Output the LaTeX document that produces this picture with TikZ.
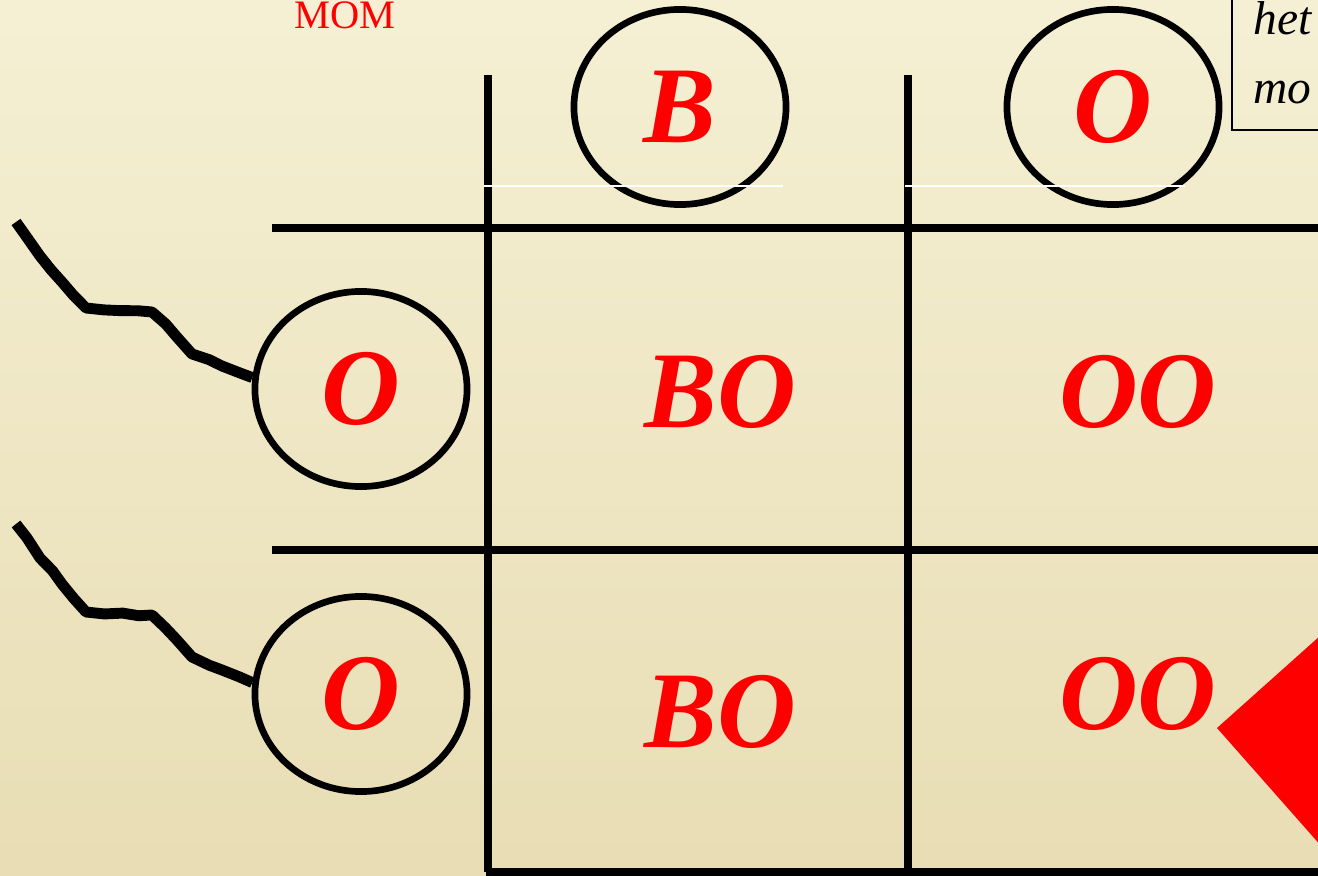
\documentclass[tikz,border=0pt]{standalone}
\usepackage{fontspec}
\setmainfont{Liberation Serif}
\usepackage{tikz}
\usetikzlibrary{shapes.geometric,decorations.pathmorphing}
\definecolor{fondclair}{RGB}{245,240,212}
\definecolor{fondfonce}{RGB}{232,221,180}
\definecolor{rouge}{RGB}{255,0,0}

\begin{document}
\begin{tikzpicture}[x=0.01cm, y=-0.01cm,
  allele/.style={ellipse, draw=black, line width=1.9pt, minimum width=2.12cm,
    minimum height=1.95cm, inner sep=0pt, text=rouge,
    font=\fontsize{31}{33}\selectfont\bfseries\itshape},
  geno/.style={text=rouge, font=\fontsize{31}{33}\selectfont\bfseries\itshape},
  trait/.style={line width=2.3pt},
  vague/.style={line width=3.1pt, line join=round, line cap=butt,
    decorate, decoration={random steps, segment length=5pt, amplitude=0.45pt}}]

\useasboundingbox (0,0) rectangle (1318,876);
\clip (0,0) rectangle (1318,876);
\pgfmathsetseed{11}

% Fond
\shade[top color=fondclair, bottom color=fondfonce] (0,0) rectangle (1318,876);

% Titre
\node[anchor=base, inner sep=0pt, text=rouge, font=\fontsize{11.5}{14}\selectfont] (mom) at (345,29) {MOM};

% Encadre
\draw[line width=0.5pt] (1232,-10) rectangle (1340,130);
\node[anchor=base west, inner sep=0pt, font=\fontsize{13.5}{16}\selectfont\itshape] (het) at (1253,35) {het};
\node[anchor=base west, inner sep=0pt, font=\fontsize{13.5}{16}\selectfont\itshape] (mo) at (1253,104) {mo};

% Grille
\draw[trait] (488,75) -- (488,872);
\draw[trait] (908,75) -- (908,872);
\draw[trait] (272,228) -- (1318,228);
\draw[trait] (272,550) -- (1318,550);
\draw[trait] (486,872) -- (1318,872);

% Alleles
\node[allele] (ob) at (680,107) {B};
\node[allele] (oo) at (1113,107) {O};
\node[allele] (oa) at (361,389) {O};
\node[allele] (oc) at (361,694) {O};

% Trait blanc
\draw[white, line width=0.6pt] (484,186) -- (783,186);
\draw[white, line width=0.6pt] (905,186) -- (1185,186);

% Genotypes
\node[geno] (g1) at (720,392) {BO};
\node[geno] (g2) at (1138,392) {OO};
\node[geno] (g3) at (720,712) {BO};
\node[geno] (g4) at (1138,694) {OO};

% Traits ondules
\coordinate (qa) at (16,222);
\coordinate (qc) at (16,524);
\draw[vague] (qa) -- (40,256) -- (62,282) -- (86,308) -- (152,312) -- (176,336)
  -- (192,354) -- (222,366) -- (oa.174);
\draw[vague] (qc) -- (40,558) -- (62,584) -- (86,612) -- (152,615) -- (176,639)
  -- (192,657) -- (222,670) -- (oc.174);

% Triangle
\fill[rouge] (1217,728) -- (1330,627) -- (1330,856) -- cycle;

\end{tikzpicture}
\end{document}
